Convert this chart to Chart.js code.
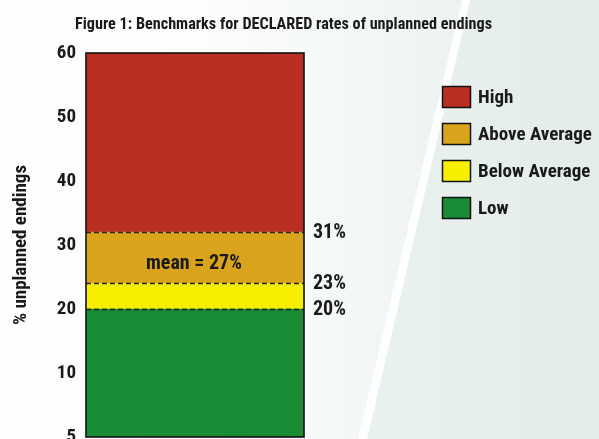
<!DOCTYPE html>
<html>
<head>
<meta charset="utf-8">
<script src="https://cdn.jsdelivr.net/npm/chart.js@4.4.1/dist/chart.umd.min.js"></script>
<style>
  html, body { margin: 0; padding: 0; background: #ffffff; }
  canvas { display: block; }
</style>
</head>
<body>
<canvas id="c" width="599" height="439"></canvas>
<script>
// ---- data ----
const categories = ['Declared'];
const bandLabels = ['Low', 'Below Average', 'Above Average', 'High'];
const bandStart = [0, 20, 24, 32];
const bandEnd = [20, 24, 32, 60];
const bandColors = ['#1b8c36', '#f8ef00', '#d9a31b', '#bb2e23'];
const yTickValues = [0, 10, 20, 30, 40, 50, 60];
const yTickLabels = ['5', '10', '20', '30', '40', '50', '60'];
const boundaryValues = [32, 24, 20];
const boundaryLabels = ['31%', '23%', '20%'];
const meanValue = 27;
const meanLabel = 'mean = 27%';
const titleText = 'Figure 1: Benchmarks for DECLARED rates of unplanned endings';
const yAxisTitle = '% unplanned endings';

const FONT = "'Roboto Condensed', 'Open Sans Condensed', sans-serif";
const TXT = '#1a1a1a';

const datasets = bandLabels.map((lab, i) => ({
  label: lab,
  data: [[bandStart[i], bandEnd[i]]],
  backgroundColor: bandColors[i],
  borderWidth: 0,
  barPercentage: 1,
  categoryPercentage: 1
}));

const bgPlugin = {
  id: 'bg',
  beforeDraw(chart) {
    const ctx = chart.ctx, w = chart.width, h = chart.height;
    ctx.save();
    const g = ctx.createLinearGradient(0, 0, w, 0);
    g.addColorStop(0, '#ffffff');
    g.addColorStop(0.35, '#fcfdfd');
    g.addColorStop(0.7, '#f0f5f4');
    g.addColorStop(1, '#e4edea');
    ctx.fillStyle = g;
    ctx.fillRect(0, 0, w, h);
    ctx.beginPath();
    ctx.moveTo(470, 0); ctx.lineTo(w, 0); ctx.lineTo(w, h); ctx.lineTo(367, h); ctx.closePath();
    const g2 = ctx.createLinearGradient(360, 0, w, 0);
    g2.addColorStop(0, '#eaf2ef');
    g2.addColorStop(1, '#e3ece9');
    ctx.fillStyle = g2;
    ctx.fill();
    ctx.beginPath();
    ctx.moveTo(462, 0); ctx.lineTo(470, 0); ctx.lineTo(367, h); ctx.lineTo(358, h); ctx.closePath();
    ctx.fillStyle = '#ffffff';
    ctx.fill();
    ctx.restore();
  }
};

const overlayPlugin = {
  id: 'overlay',
  afterDatasetsDraw(chart) {
    const ctx = chart.ctx;
    const y = chart.scales.y;
    const bar0 = chart.getDatasetMeta(0).data[0];
    const left = bar0.x - bar0.width / 2, right = bar0.x + bar0.width / 2;
    const top = y.getPixelForValue(Math.max(...bandEnd));
    const bottom = y.getPixelForValue(Math.min(...bandStart));
    ctx.save();
    ctx.strokeStyle = '#222';
    ctx.lineWidth = 1.3;
    ctx.setLineDash([5, 3]);
    boundaryValues.forEach(v => {
      const py = Math.round(y.getPixelForValue(v)) + 0.5;
      ctx.beginPath(); ctx.moveTo(left, py); ctx.lineTo(right, py); ctx.stroke();
    });
    ctx.setLineDash([]);
    ctx.lineWidth = 1.6;
    ctx.strokeStyle = '#111';
    ctx.strokeRect(left, top, right - left, bottom - top);
    ctx.fillStyle = TXT;
    ctx.font = "bold 20px " + FONT;
    ctx.textAlign = 'left';
    ctx.textBaseline = 'middle';
    boundaryValues.forEach((v, i) => {
      ctx.fillText(boundaryLabels[i], right + 9, y.getPixelForValue(v) + 1);
    });
    ctx.font = "bold 20px " + FONT;
    ctx.textAlign = 'center';
    ctx.fillText(meanLabel, bar0.x - 1, y.getPixelForValue(meanValue));
    ctx.font = "bold 16.2px " + FONT;
    ctx.textAlign = 'left';
    ctx.fillText(titleText, 75, 25);
    const items = chart.data.datasets.map(d => ({ label: d.label, color: d.backgroundColor })).reverse();
    ctx.font = "bold 19px " + FONT;
    items.forEach((it, i) => {
      const cy = 97 + i * 37;
      ctx.fillStyle = it.color;
      ctx.fillRect(442.5, cy - 10.5, 28, 21);
      ctx.lineWidth = 1.5;
      ctx.strokeStyle = '#111';
      ctx.strokeRect(442.5, cy - 10.5, 28, 21);
      ctx.fillStyle = TXT;
      ctx.textAlign = 'left';
      ctx.fillText(it.label, 478, cy + 1);
    });
    ctx.restore();
  }
};

new Chart(document.getElementById('c'), {
  type: 'bar',
  data: { labels: categories, datasets },
  options: {
    responsive: false,
    animation: false,
    layout: { padding: { left: 0, right: 295, top: 53, bottom: 2 } },
    plugins: { legend: { display: false }, tooltip: { enabled: false }, title: { display: false } },
    scales: {
      x: { display: false, stacked: true },
      y: {
        min: 0, max: 60,
        afterBuildTicks(scale) { scale.ticks = yTickValues.map(v => ({ value: v })); },
        afterFit(scale) { scale.width = 86; },
        grid: { display: false, drawTicks: true, tickLength: 10 },
        border: { display: false },
        ticks: {
          padding: 0,
          color: TXT,
          font: { family: FONT, size: 19, weight: 'bold', lineHeight: 0.2 },
          callback: (v, i) => yTickLabels[i]
        },
        title: {
          display: true, text: yAxisTitle, color: TXT,
          font: { family: FONT, size: 19, weight: 'bold' },
          padding: { top: 10, bottom: 0 }
        }
      }
    }
  },
  plugins: [bgPlugin, overlayPlugin]
});
</script>
</body>
</html>
